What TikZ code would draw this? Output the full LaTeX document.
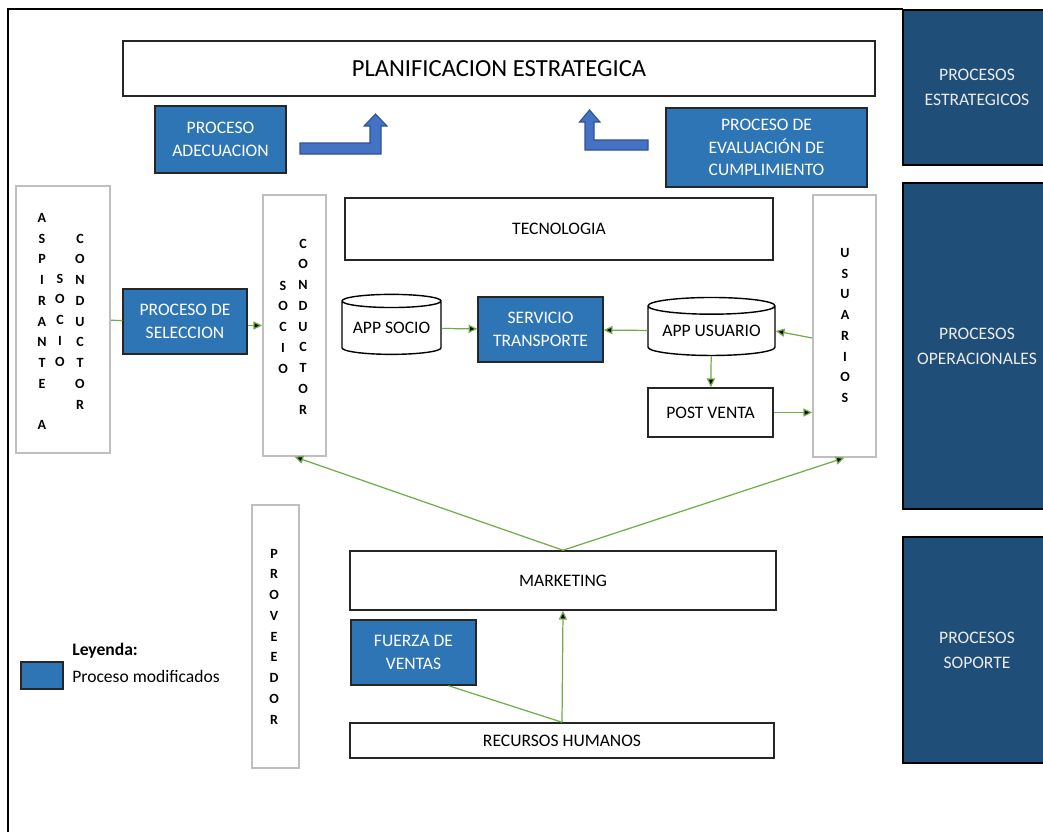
\documentclass[tikz,border=0pt]{standalone}
\usepackage{fontspec}
\setmainfont{Carlito}
\usetikzlibrary{shapes.geometric,arrows.meta}
\definecolor{procblue}{RGB}{46,117,182}
\definecolor{darkblue}{RGB}{31,78,121}
\definecolor{arrowblue}{RGB}{68,114,196}
\definecolor{arrowedge}{RGB}{47,82,143}
\definecolor{linegreen}{RGB}{112,173,71}
\definecolor{boxgray}{RGB}{191,191,191}

\begin{document}
\begin{tikzpicture}[x=0.02cm,y=-0.02cm,>={Triangle[length=5pt,width=4.6pt]},font=\fontsize{10}{13}\selectfont,white box/.style={draw=black!85,line width=0.9pt,fill=white,align=center,inner sep=0pt},blue box/.style={draw=black!85,line width=0.8pt,fill=procblue,text=white,align=center,inner sep=0pt},side box/.style={draw=black,line width=1.6pt,fill=darkblue,text=white!92!black,align=center,inner sep=0pt,minimum width=2.96cm,font=\fontsize{10}{14.4}\selectfont},column box/.style={draw=boxgray,line width=0.9pt,fill=white,inner sep=0pt},column text/.style={font=\bfseries\fontsize{8}{11.8}\selectfont,align=center,inner sep=0pt},app node/.style={cylinder,shape border rotate=90,aspect=0.17,draw=black,line width=0.8pt,fill=white,align=center,inner sep=0pt},bent arrow/.style={fill=arrowblue,draw=arrowedge,line width=0.6pt},green line/.style={draw=linegreen,line width=0.7pt}]
                \useasboundingbox (0,0) rectangle (1043,832);
                \draw[line width=1.1pt] (8,832) -- (8,9) -- (903,9);
                \node[side box,minimum height=3.1cm] (estrat) at (977,87.5) {PROCESOS\\ESTRATEGICOS};
                \node[side box,minimum height=6.52cm] (oper) at (977,346) {PROCESOS\\OPERACIONALES};
                \node[side box,minimum height=4.52cm] (soporte) at (977,650) {PROCESOS\\SOPORTE};

                \node[white box,minimum width=15.04cm,minimum height=1.1cm,font=\fontsize{14}{16}\selectfont] (plan) at (499,68.5) {PLANIFICACION ESTRATEGICA};
                \node[blue box,minimum width=2.62cm,minimum height=1.34cm] (adec) at (220.5,139.5) {PROCESO\\ADECUACION};
                \node[blue box,minimum width=4.02cm,minimum height=1.58cm] (eval) at (766.5,147.5) {PROCESO DE\\EVALUACIÓN DE\\CUMPLIMIENTO};
                \filldraw[bent arrow] (300,143) -- (370,143) -- (370,126) -- (364,126) -- (375.5,114) -- (387,126) -- (381,126) -- (381,154) -- (300,154) -- cycle;
                \filldraw[bent arrow] (648,140) -- (594,140) -- (594,122) -- (600,122) -- (589.5,110) -- (579.5,122) -- (585,122) -- (585,150) -- (648,150) -- cycle;

                \node[white box,minimum width=8.56cm,minimum height=1.24cm] (tec) at (559,229) {TECNOLOGIA};
                \node[column box,minimum width=1.88cm,minimum height=5.34cm] (aspirante) at (63,319.5) {};
                \node[column text] (aspirante1) at (42,321.5) {A\\S\\P\\I\\R\\A\\N\\T\\E\\~\\A};
                \node[column text] (aspirante2) at (60,320) {S\\O\\C\\I\\O};
                \node[column text] (aspirante3) at (80,321.5) {C\\O\\N\\D\\U\\C\\T\\O\\R};
                \node[column box,minimum width=1.26cm,minimum height=5.22cm] (socio) at (294.5,325.5) {};
                \node[column text] (socio1) at (283,327) {S\\O\\C\\I\\O};
                \node[column text] (socio2) at (303,326.5) {C\\O\\N\\D\\U\\C\\T\\O\\R};
                \node[column box,minimum width=1.26cm,minimum height=5.24cm] (usuarios) at (844.5,326) {};
                \node[column text] (usuarios1) at (845,325.5) {U\\S\\U\\A\\R\\I\\O\\S};
                \node[blue box,minimum width=2.48cm,minimum height=1.3cm] (selec) at (185,321.5) {PROCESO DE\\SELECCION};
                \node[app node,minimum width=1.98cm,minimum height=1.2cm] (appsocio) at (391.5,328) {APP SOCIO};
                \node[blue box,minimum width=2.5cm,minimum height=1.3cm] (servicio) at (540.5,329.5) {SERVICIO\\TRANSPORTE};
                \node[app node,minimum width=2.54cm,minimum height=1.16cm] (appusuario) at (711.5,331) {APP USUARIO};
                \node[white box,minimum width=2.5cm,minimum height=0.98cm] (postventa) at (710.5,412.5) {POST VENTA};

                \node[column box,minimum width=0.94cm,minimum height=5.26cm] (proveedor) at (275.5,636.5) {};
                \node[column text] (proveedor1) at (274,636.5) {P\\R\\O\\V\\E\\E\\D\\O\\R};
                \node[white box,minimum width=8.52cm,minimum height=1.18cm] (marketing) at (563,580.5) {MARKETING};
                \node[blue box,minimum width=2.5cm,minimum height=1.3cm] (fuerza) at (413.5,652.5) {FUERZA DE\\VENTAS};
                \node[white box,minimum width=8.48cm,minimum height=0.7cm] (rrhh) at (562,740.5) {RECURSOS HUMANOS};

                \node[blue box,minimum width=0.84cm,minimum height=0.54cm] (muestra) at (42,675.5) {};
                \node[anchor=west,inner sep=0pt,font=\bfseries\fontsize{10}{12}\selectfont] (leyenda) at (72,651) {Leyenda:};
                \node[anchor=west,inner sep=0pt] (modificados) at (72,676) {Proceso modificados};

                \path[green line]
                    (aspirante) edge (selec)
                    (selec.east |- socio.west) edge[->] (socio.west)
                    (appsocio) edge[->] (servicio)
                    (appusuario) edge[->] (servicio)
                    ([yshift=-0.24cm]usuarios.west) edge[->] (appusuario.east)
                    (appusuario) edge[->] (postventa)
                    (postventa.east) edge[->] (postventa.east -| usuarios.west)
                    (marketing.north) edge[->] (socio.south)
                    (marketing.north) edge[->] (usuarios.south)
                    (rrhh.north) edge[->] (marketing.south)
                    ([xshift=0.7cm]fuerza.south) edge (rrhh.north)
                    ;
            \end{tikzpicture}
\end{document}
